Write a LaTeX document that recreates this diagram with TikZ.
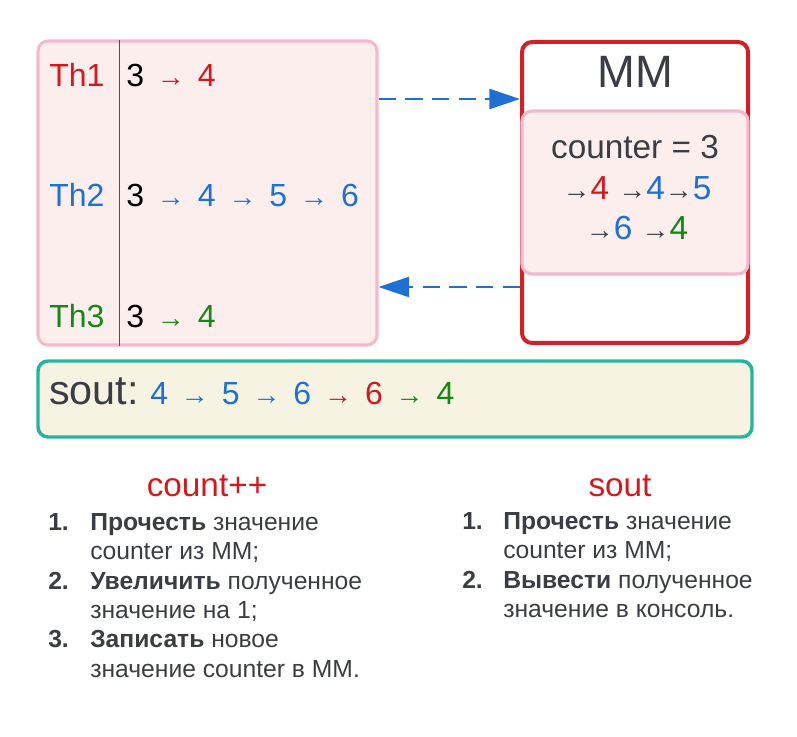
\documentclass[tikz,border=0pt]{standalone}
\usepackage{fontspec}
\setmainfont{Liberation Sans}
\usetikzlibrary{arrows.meta,positioning}

\definecolor{thred}{RGB}{210,25,30}
\definecolor{thblue}{RGB}{30,112,212}
\definecolor{thgreen}{RGB}{20,135,20}
\definecolor{ink}{RGB}{58,62,68}
\definecolor{pinkline}{RGB}{245,185,206}
\definecolor{pinkfill}{RGB}{253,238,238}
\definecolor{mmred}{RGB}{210,32,40}
\definecolor{soutline}{RGB}{38,180,160}
\definecolor{soutfill}{RGB}{246,243,226}

\newcommand\fs[1]{\fontsize{#1}{#1}\selectfont}
% small coloured arrow, with or without extra room round it
\newcommand\arr[1]{{\color{#1}\fs{21}→}}
\newcommand\warr[1]{\kern3pt\relax\arr{#1}\kern3pt\relax}
\newcommand\dg[2]{{\color{#1}#2}}

\begin{document}
\begin{tikzpicture}[x=0.75pt,y=-0.75pt]
    \tikzset{every node/.style={inner sep=0pt}}
    \tikzset{txt/.style={anchor=base west,font=\fs{24}}}
    \tikzset{lst/.style={anchor=base west,text=ink,font=\fs{18.5}}}
    \tikzset{box/.style={draw,rounded corners=7.5pt}}
    \tikzset{flow/.style={thblue,line width=1.9pt,dash pattern=on 13pt off 7pt,-{Triangle[length=23pt,width=15pt]}}}
    \useasboundingbox (0,0) rectangle (797,737);
    % threads
    \node [box,draw=pinkline,fill=pinkfill,line width=2.3pt,minimum width=254.25pt,minimum height=228pt] (thr) at (207.5,193) {};
    \draw [color={rgb,255:red,190;green,30;blue,50},line width=1pt] (119.5,40) -- (119.5,346);
    \node [txt,text=thred] (th1) at (49,87) {Th1};
    \node [txt,text=thblue] (th2) at (49,207) {Th2};
    \node [txt,text=thgreen] (th3) at (49,328) {Th3};
    \node [txt] (v1) at (126,87) {3 \warr{thred} \dg{thred}{4}};
    \node [txt] (v2) at (126,207) {3 \warr{thblue} \dg{thblue}{4} \warr{thblue} \dg{thblue}{5} \warr{thblue} \dg{thblue}{6}};
    \node [txt] (v3) at (126,328) {3 \warr{thgreen} \dg{thgreen}{4}};
    % main memory
    \node [box,draw=mmred,fill=white,line width=3pt,minimum width=169.5pt,minimum height=225.75pt] (mm) at (635,192.5) {};
    \node [anchor=base,text=ink,font=\fs{34}] (mmt) at (635,88) {MM};
    \node [box,draw=pinkline,fill=pinkfill,line width=2.3pt,minimum width=169.5pt,minimum height=122.25pt] (cnt) at (635,192.5) {};
    \node [anchor=base,text=ink,font=\fs{25}] (c0) at (635,159) {counter = 3};
    \node [anchor=base,text=ink,font=\fs{25}] (c1) at (637,200) {\arr{ink}\dg{thred}{4} \arr{ink}\dg{thblue}{4}\arr{ink}\dg{thblue}{5}};
    \node [anchor=base,text=ink,font=\fs{25}] (c2) at (637,240) {\arr{ink}\dg{thblue}{6} \arr{ink}\dg{thgreen}{4}};
    \coordinate (rd) at (450,99);
    \coordinate (wr) at (450,287);
    \draw [flow] (thr.east |- rd) -- (mm.west |- rd);
    \draw [flow] (mm.west |- wr) -- (thr.east |- wr);
    % console
    \node [box,draw=soutline,fill=soutfill,line width=2.6pt,minimum width=535.5pt,minimum height=57pt] (out) at (395,399) {};
    \node [anchor=base west,text=ink,font=\fs{31}] (ol) at (49,405) {sout:};
    \node [txt] (ov) at (150,405) {\dg{thblue}{4} \warr{thblue} \dg{thblue}{5} \warr{thblue} \dg{thblue}{6} \warr{thred} \dg{thred}{6} \warr{thgreen} \dg{thgreen}{4}};
    % count++
    \node [anchor=base,text=thred,font=\fs{25}] (h1) at (207,497) {count++};
    \node [lst] (a1) at (48,531) {\textbf{1.}};
    \node [lst] (a1a) at (90,531) {\textbf{Прочесть} значение};
    \node [lst] (a1b) at (90,560) {counter из MM;};
    \node [lst] (a2) at (48,590) {\textbf{2.}};
    \node [lst] (a2a) at (90,590) {\textbf{Увеличить} полученное};
    \node [lst] (a2b) at (90,619) {значение на 1;};
    \node [lst] (a3) at (48,648) {\textbf{3.}};
    \node [lst] (a3a) at (90,648) {\textbf{Записать} новое};
    \node [lst] (a3b) at (90,678) {значение counter в MM.};
    % sout
    \node [anchor=base,text=thred,font=\fs{25}] (h2) at (620,497) {sout};
    \node [lst] (b1) at (462,530) {\textbf{1.}};
    \node [lst] (b1a) at (503,530) {\textbf{Прочесть} значение};
    \node [lst] (b1b) at (503,559) {counter из MM;};
    \node [lst] (b2) at (462,589) {\textbf{2.}};
    \node [lst] (b2a) at (503,589) {\textbf{Вывести} полученное};
    \node [lst] (b2b) at (503,618) {значение в консоль.};
\end{tikzpicture}
\end{document}
